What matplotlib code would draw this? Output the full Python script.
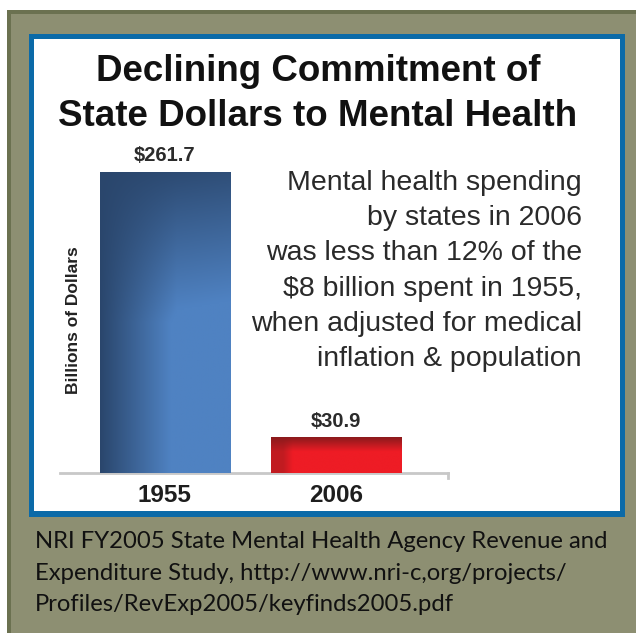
import numpy as np
import matplotlib
matplotlib.use("Agg")
import matplotlib.pyplot as plt
from matplotlib.patches import Rectangle
from matplotlib.colors import to_rgb

years = ["1955", "2006"]
spending = [261.7, 30.9]
value_labels = ["$261.7", "$30.9"]
title = "Declining Commitment of\nState Dollars to Mental Health"
note = ("Mental health spending\nby states in 2006\nwas less than 12% of the\n"
        "$8 billion spent in 1955,\nwhen adjusted for medical\ninflation & population")
source = ("NRI FY2005 State Mental Health Agency Revenue and\n"
          "Expenditure Study, http://www.nri-c,org/projects/\n"
          "Profiles/RevExp2005/keyfinds2005.pdf")

W, H = 636, 633
fig = plt.figure(figsize=(W / 100, H / 100), dpi=100)
fig.patch.set_facecolor("white")


def px(x, y, w, h):
    # pixel box (top-left origin) -> figure fraction
    return [x / W, 1 - (y + h) / H, w / W, h / H]


def frame(x, y, w, h, **kw):
    b = px(x, y, w, h)
    fig.patches.append(Rectangle((b[0], b[1]), b[2], b[3], transform=fig.transFigure,
                                 zorder=-5, **kw))


# olive outer frame, blue inner frame, white panel
frame(7, 10, 640, 640, facecolor="#6b7150", edgecolor="none")
frame(11, 14, 640, 640, facecolor="#8d8f72", edgecolor="none")
frame(29, 34, 596, 483, facecolor="#0b6aa8", edgecolor="none")
frame(34, 39, 586, 472, facecolor="white", edgecolor="none")

# axes: baseline at y=473 px, from x=60 to x=448
ax = fig.add_axes(px(60, 128, 388, 345))
ax.set_facecolor("none")
x = np.arange(len(years))
bars = ax.bar(x, spending, width=0.758, color=["#4a7bb8", "#e81c24"], zorder=2)


def grad_img(kind):
    n = 200
    gx, gy = np.meshgrid(np.linspace(0, 1, n), np.linspace(0, 1, n))  # gy 0 = bottom
    if kind == 0:
        dark, light = np.array(to_rgb("#2a466c")), np.array(to_rgb("#4f82c2"))
        t = np.clip(gx * 1.7, 0, 1) * np.clip((1 - gy) * 2.0, 0, 1)
        t = np.clip(t + 0.15 * gx, 0, 1)
    else:
        dark, light = np.array(to_rgb("#8a1a1c")), np.array(to_rgb("#ee1c25"))
        t = np.clip((1 - gy) * 2.5, 0, 1) * np.clip(gx * 6, 0.55, 1)
    return dark[None, None, :] * (1 - t[..., None]) + light[None, None, :] * t[..., None]


for i, b in enumerate(bars):
    bx, by, bw, bh = b.get_x(), b.get_y(), b.get_width(), b.get_height()
    im = ax.imshow(grad_img(i), extent=[bx, bx + bw, by, by + bh], origin="lower",
                   aspect="auto", zorder=3)
    im.set_clip_path(b)
    ax.text(x[i], spending[i] + 6, value_labels[i], ha="center", va="bottom",
            fontsize=14.5, fontweight="bold", color="#2b2b2b", family="Liberation Sans")
ax.set_xlim(-0.61, 1.652)
ax.set_ylim(0, 300)

for s in ["top", "right", "left"]:
    ax.spines[s].set_visible(False)
ax.spines["bottom"].set_color("#c8c8c8")
ax.spines["bottom"].set_linewidth(2)
ax.plot([1.652, 1.652], [0, -4], color="#c8c8c8", lw=2, clip_on=False)
ax.set_yticks([])
ax.set_xticks(x)
ax.set_xticklabels(years, fontsize=17.5, fontweight="bold", color="#1e1e1e", family="Liberation Sans")
ax.tick_params(axis="x", length=0, pad=8)
ax.set_ylabel("Billions of Dollars", fontsize=12.5, fontweight="bold", family="Liberation Sans",
              color="#222222", va="center")
ax.yaxis.set_label_coords(0.036, 0.443)

fig.text(0.5, 1 - 94 / H, title, ha="center", va="center", fontsize=26.5, fontweight="bold",
         family="Liberation Sans", color="#111111", linespacing=1.35)
fig.text(582 / W, 1 - 271 / H, note, ha="right", va="center", fontsize=20.5,
         family="Liberation Sans", color="#2a2a2a", linespacing=1.47)
fig.text(35 / W, 1 - 573 / H, source, ha="left", va="center", fontsize=17.2,
         family="Lato", color="#111111", linespacing=1.6)

fig.savefig("out.png", dpi=100)
